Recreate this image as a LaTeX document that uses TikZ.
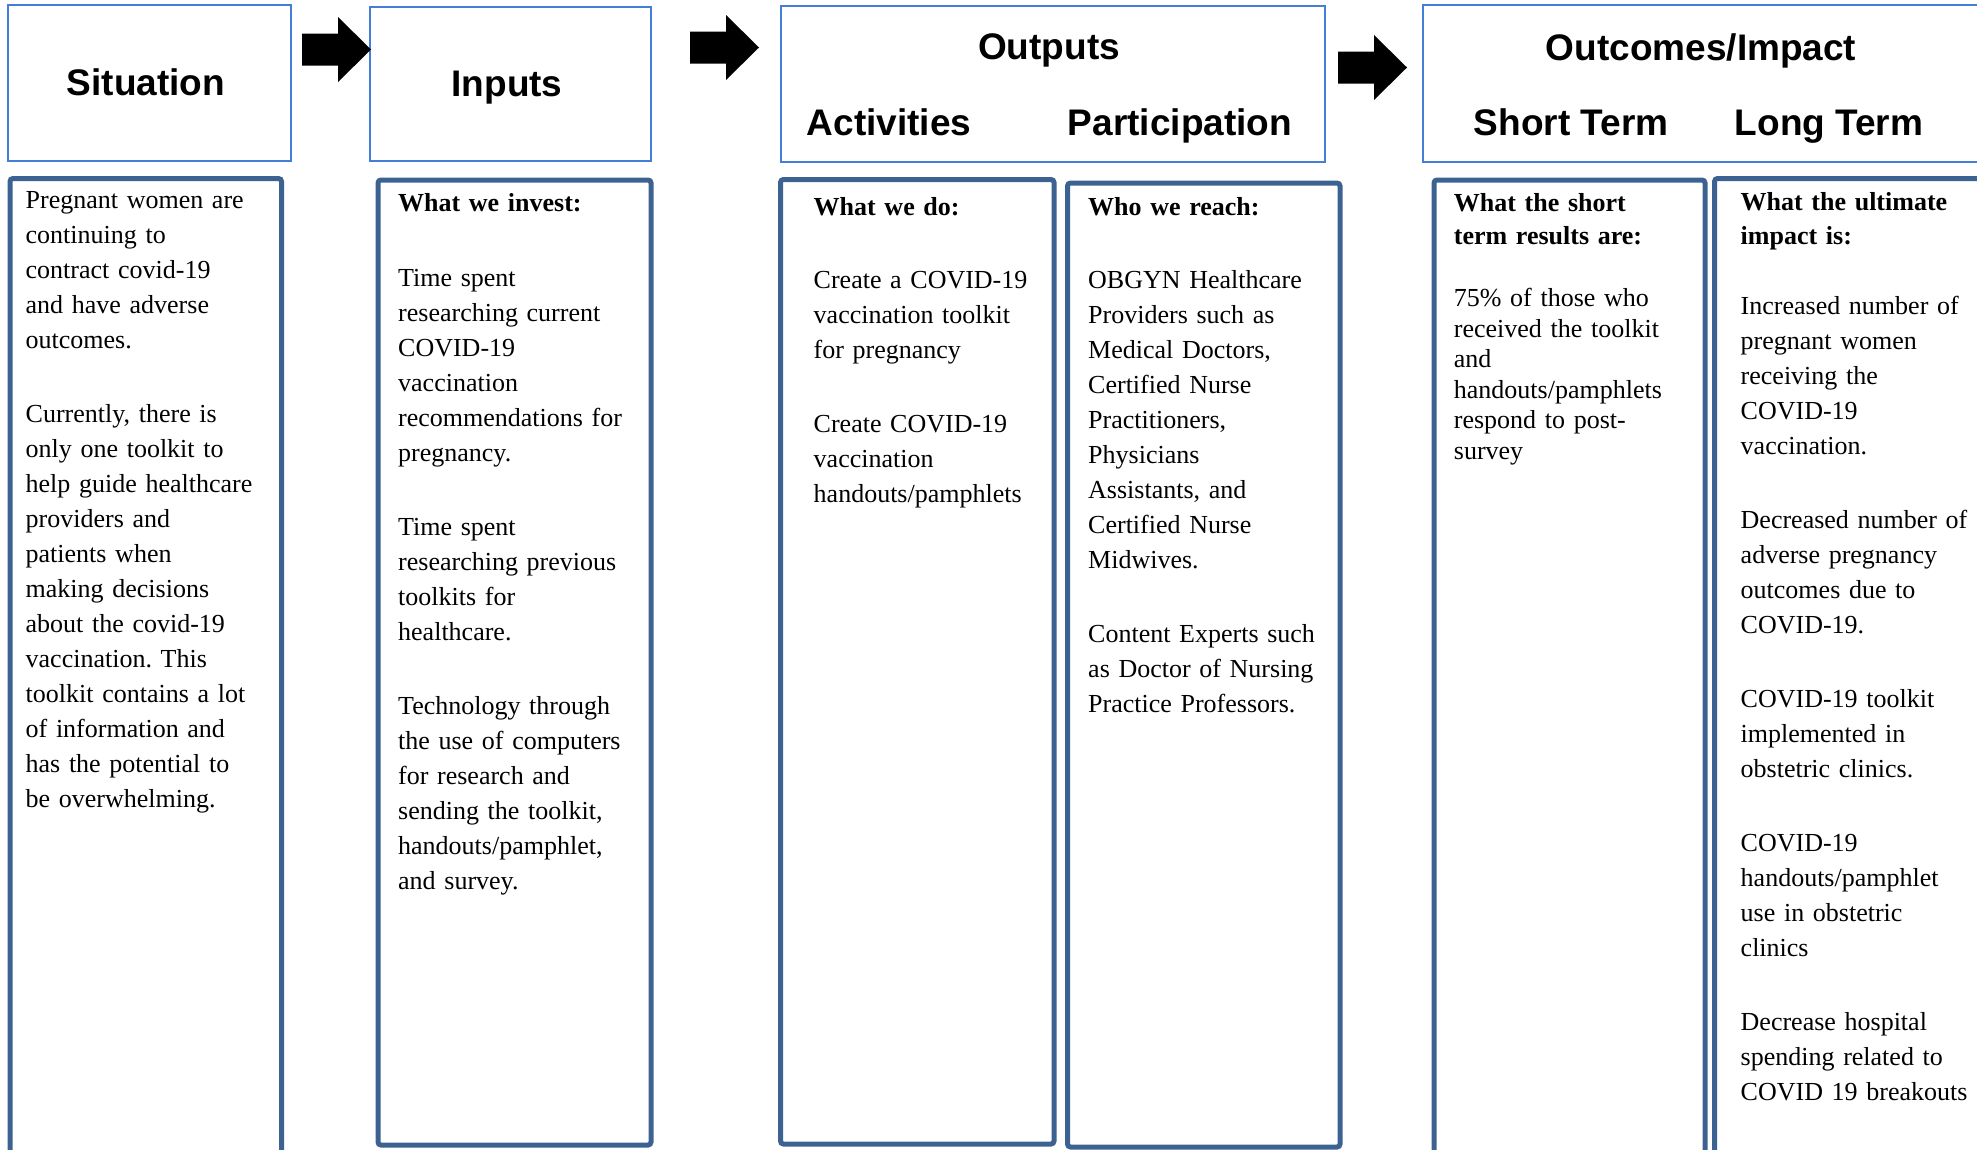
\documentclass[tikz,border=0pt]{standalone}
\usepackage{fontspec}
\setmainfont{Liberation Serif}
\newfontfamily\headfont{Liberation Sans}
\frenchspacing

\definecolor{framelight}{RGB}{68,126,216}
\definecolor{framedark}{RGB}{60,98,145}

\tikzset{
  headbox/.style={draw=framelight, line width=2pt, rectangle, inner sep=0pt, outer sep=0pt, anchor=north west},
  colbox/.style={draw=framedark, line width=5pt, rectangle, rounded corners=3pt, inner sep=0pt, outer sep=0pt, anchor=north west},
  headtxt/.style={font=\headfont\bfseries\fontsize{37pt}{40pt}\selectfont, anchor=base, inner sep=0pt},
  bodytxt/.style={font=\frenchspacing\fontsize{26pt}{35pt}\selectfont, anchor=base west, inner sep=0pt, align=left, text width=320pt},
  shorttxt/.style={bodytxt, font=\frenchspacing\fontsize{26pt}{30.5pt}\selectfont},
  labeltxt/.style={bodytxt, font=\frenchspacing\bfseries\fontsize{26pt}{33.5pt}\selectfont},
  blockarrow/.style={fill=black}
}

% block arrow: left end x, middle y
\newcommand{\lmblockarrow}[2]{%
  \fill[blockarrow] ({#1},{#2-16}) -- ({#1+36},{#2-16}) -- ({#1+36},{#2-32.5})
    -- ({#1+69},{#2}) -- ({#1+36},{#2+32.5}) -- ({#1+36},{#2+16}) -- ({#1},{#2+16}) -- cycle;}

\begin{document}
\begin{tikzpicture}[x=1pt,y=-1pt]
\useasboundingbox (0,0) rectangle (1977,1149);
\clip (0,0) rectangle (1977,1149);

% ---- header boxes ----
\node[headbox, minimum width=283pt, minimum height=156pt] (situationhd) at (7.5,5) {};
\node[headbox, minimum width=281pt, minimum height=154pt] (inputshd) at (369.5,7) {};
\node[headbox, minimum width=544pt, minimum height=156pt] (outputshd) at (780.5,5.5) {};
\node[headbox, minimum width=600pt, minimum height=157pt] (outcomeshd) at (1422.5,4.5) {};

\node[headtxt] (situationlbl) at (146,95) {Situation};
\node[headtxt] (inputslbl) at (507,96.7) {Inputs};
\node[headtxt] (outputslbl) at (1049,59.3) {Outputs};
\node[headtxt] (activitieslbl) at (889,135) {Activities};
\node[headtxt] (participationlbl) at (1180,135) {Participation};
\node[headtxt] (outcomeslbl) at (1701,60) {Outcomes/Impact};
\node[headtxt] (shortlbl) at (1571,135) {Short Term};
\node[headtxt] (longlbl) at (1829,135) {Long Term};

% ---- arrows between the headers ----
\lmblockarrow{302}{49.5}
\lmblockarrow{690}{47.5}
\lmblockarrow{1338}{67.5}

% ---- column boxes ----
\node[colbox, minimum width=271.5pt, minimum height=1000pt] (situationcol) at (10,178.5) {};
\node[colbox, minimum width=273pt, minimum height=965pt] (inputscol) at (378,180) {};
\node[colbox, minimum width=273.5pt, minimum height=964.5pt] (activitiescol) at (780.5,179.5) {};
\node[colbox, minimum width=272.5pt, minimum height=964pt] (participationcol) at (1067.5,183) {};
\node[colbox, minimum width=271pt, minimum height=1000pt] (shortcol) at (1434,180) {};
\node[colbox, minimum width=400pt, minimum height=1000pt] (longcol) at (1714.5,178.5) {};

% ---- column texts ----
\node[bodytxt] (situationtxt) at (25.5,208.3) {Pregnant women are\\ continuing to\\ contract covid-19\\ and have adverse\\ outcomes.\\[39pt]
Currently, there is\\ only one toolkit to\\ help guide healthcare\\ providers and\\ patients when\\ making decisions\\ about the covid-19\\ vaccination. This\\ toolkit contains a lot\\ of information and\\ has the potential to\\ be overwhelming.};

\node[labeltxt] (investlbl) at (398,211.5) {What we invest:};
\node[bodytxt] (investtxt) at (398,286.5) {Time spent\\ researching current\\ COVID-19\\ vaccination\\ recommendations for\\ pregnancy.\\[39pt]
Time spent\\ researching previous\\ toolkits for\\ healthcare.\\[39pt]
Technology through\\ the use of computers\\ for research and\\ sending the toolkit,\\ handouts/pamphlet,\\ and survey.};

\node[labeltxt] (dolbl) at (813.5,215) {What we do:};
\node[bodytxt] (dotxt) at (813.5,288.3) {Create a COVID-19\\ vaccination toolkit\\ for pregnancy\\[39pt]
Create COVID-19\\ vaccination\\ handouts/pamphlets};

\node[labeltxt] (reachlbl) at (1088,215) {Who we reach:};
\node[bodytxt] (reachtxt) at (1088,288) {OBGYN Healthcare\\ Providers such as\\ Medical Doctors,\\ Certified Nurse\\ Practitioners,\\ Physicians\\ Assistants, and\\ Certified Nurse\\ Midwives.\\[39pt]
Content Experts such\\ as Doctor of Nursing\\ Practice Professors.};

\node[labeltxt] (shortres) at (1453.7,211) {What the short\\ term results are:};
\node[shorttxt] (shorttxt) at (1453.7,306.5) {75\% of those who\\ received the toolkit\\ and\\ handouts/pamphlets\\ respond to post-\\ survey};

\node[labeltxt] (longres) at (1740.5,210.5) {What the ultimate\\ impact is:};
\node[bodytxt] (longtxt) at (1740.5,314.5) {Increased number of\\ pregnant women\\ receiving the\\ COVID-19\\ vaccination.\\[39pt]
Decreased number of\\ adverse pregnancy\\ outcomes due to\\ COVID-19.\\[39pt]
COVID-19 toolkit\\ implemented in\\ obstetric clinics.\\[39pt]
COVID-19\\ handouts/pamphlet\\ use in obstetric\\ clinics\\[39pt]
Decrease hospital\\ spending related to\\ COVID 19 breakouts};
\end{tikzpicture}
\end{document}
